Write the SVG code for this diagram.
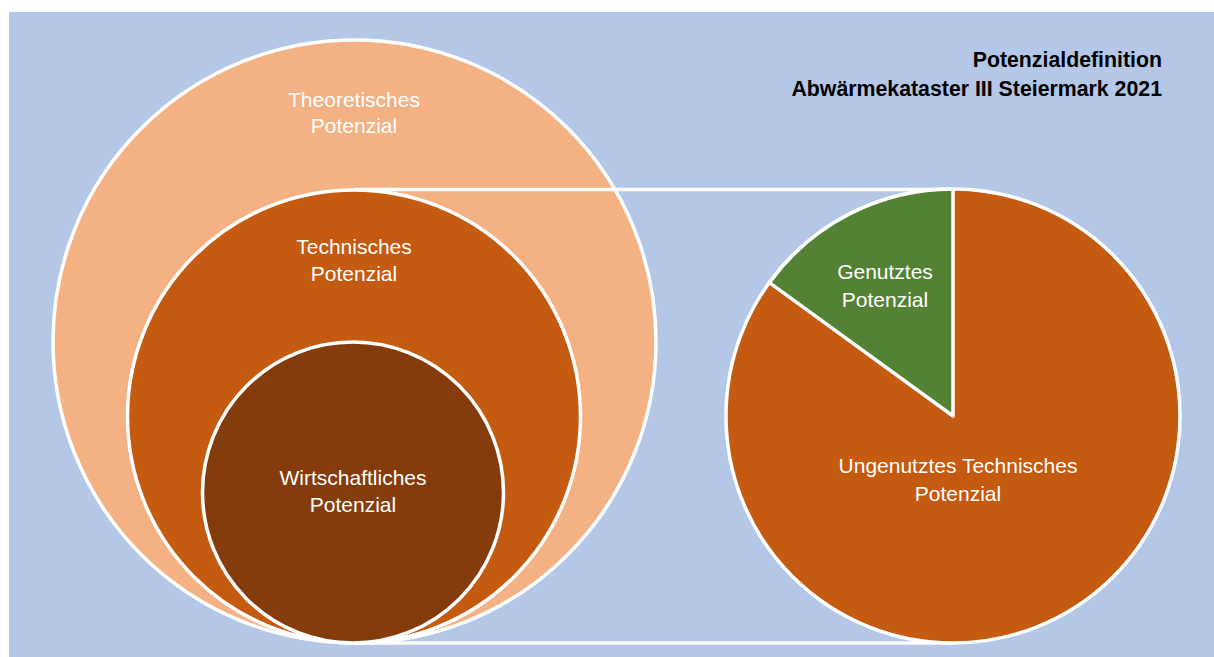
<svg xmlns="http://www.w3.org/2000/svg" width="1214" height="657" viewBox="0 0 1214 657">
<style>
.c{stroke:#ffffff;stroke-width:3.5}
.lbl{font-family:"Liberation Sans",Arial,sans-serif;font-size:21px;fill:#ffffff;text-anchor:middle}
.ttl{font-family:"Liberation Sans",Arial,sans-serif;font-size:21.3px;font-weight:bold;fill:#000000;text-anchor:end}
.ln{stroke:#ffffff;stroke-width:3.5;fill:none}
</style>
<rect x="9" y="12" width="1205" height="645" fill="#b4c7e7"/>
<g id="title">
<text class="ttl" x="1162" y="67">Potenzialdefinition</text>
<text class="ttl" x="1162" y="96">Abwärmekataster III Steiermark 2021</text>
</g>
<g id="theoretisches">
<circle class="c" cx="354.5" cy="341.5" r="301.5" fill="#f4b183"/>
<text class="lbl" x="354" y="107">Theoretisches</text>
<text class="lbl" x="354" y="133">Potenzial</text>
</g>
<g id="connectors">
<line class="ln" x1="354" y1="189.5" x2="953" y2="189.5"/>
<line class="ln" x1="354" y1="643" x2="953" y2="643"/>
</g>
<g id="technisches">
<circle class="c" cx="354" cy="416.5" r="226.5" fill="#c55a11"/>
<text class="lbl" x="354" y="254">Technisches</text>
<text class="lbl" x="354" y="281">Potenzial</text>
</g>
<g id="wirtschaftliches">
<circle class="c" cx="353" cy="492.5" r="150.5" fill="#843c0c"/>
<text class="lbl" x="353" y="485">Wirtschaftliches</text>
<text class="lbl" x="353" y="512">Potenzial</text>
</g>
<g id="ungenutztes">
<circle class="c" cx="953" cy="416" r="227" fill="#c55a11"/>
<text class="lbl" x="958" y="473">Ungenutztes Technisches</text>
<text class="lbl" x="958" y="501">Potenzial</text>
</g>
<g id="genutztes">
<path class="c" d="M953,416 L953,189 A227,227 0 0 0 769.4,282.6 Z" fill="#548235" stroke-linejoin="round"/>
<text class="lbl" x="885" y="279">Genutztes</text>
<text class="lbl" x="885" y="307">Potenzial</text>
</g>
</svg>
